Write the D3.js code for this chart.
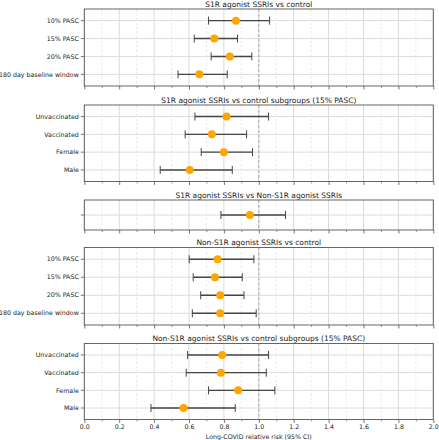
<!DOCTYPE html>
<html><head><meta charset="utf-8">
<script src="https://cdn.jsdelivr.net/npm/d3@7"></script>
<style>body{margin:0;background:#fff}svg{display:block}text{font-family:"DejaVu Sans",sans-serif;fill:#222}</style>
</head><body><svg id="c" width="439" height="440"></svg>
<script>
// Panel titles
const titles = [
  "S1R agonist SSRIs vs control",
  "S1R agonist SSRIs vs control subgroups (15% PASC)",
  "S1R agonist SSRIs vs Non-S1R agonist SSRIs",
  "Non-S1R agonist SSRIs vs control",
  "Non-S1R agonist SSRIs vs control subgroups (15% PASC)"
];
// Row labels per panel
const labels1 = ["10% PASC","15% PASC","20% PASC","180 day baseline window"];
const labels2 = ["Unvaccinated","Vaccinated","Female","Male"];
const labels3 = [""];
const labels4 = ["10% PASC","15% PASC","20% PASC","180 day baseline window"];
const labels5 = ["Unvaccinated","Vaccinated","Female","Male"];
// Relative risk estimates
const rr1 = [0.869,0.745,0.834,0.659];
const rr2 = [0.815,0.731,0.800,0.604];
const rr3 = [0.949];
const rr4 = [0.764,0.749,0.779,0.779];
const rr5 = [0.790,0.783,0.882,0.569];
// Lower 95% CI
const lo1 = [0.712,0.630,0.727,0.537];
const lo2 = [0.634,0.578,0.670,0.435];
const lo3 = [0.783];
const lo4 = [0.601,0.624,0.667,0.619];
const lo5 = [0.592,0.584,0.712,0.382];
// Upper 95% CI
const hi1 = [1.062,0.878,0.960,0.819];
const hi2 = [1.056,0.930,0.964,0.848];
const hi3 = [1.153];
const hi4 = [0.972,0.905,0.915,0.985];
const hi5 = [1.056,1.043,1.092,0.865];
const xTicks = [0.0,0.2,0.4,0.6,0.8,1.0,1.2,1.4,1.6,1.8,2.0];
const xLabel = "Long-COVID relative risk (95% CI)";

const panels = [
  {title:titles[0], labels:labels1, rr:rr1, lo:lo1, hi:hi1, top:9, bottom:86},
  {title:titles[1], labels:labels2, rr:rr2, lo:lo2, hi:hi2, top:105, bottom:181.5},
  {title:titles[2], labels:labels3, rr:rr3, lo:lo3, hi:hi3, top:200, bottom:230},
  {title:titles[3], labels:labels4, rr:rr4, lo:lo4, hi:hi4, top:247.5, bottom:325},
  {title:titles[4], labels:labels5, rr:rr5, lo:lo5, hi:hi5, top:343.5, bottom:419.5}
];

const svg = d3.select("#c");
const L = 84.3, R = 433.3;
const FS = 6.3;
const x = d3.scaleLinear().domain([0,2]).range([L,R]);
const minor = d3.range(0.1,2.0,0.2);

panels.forEach((p,pi)=>{
  const g = svg.append("g");
  const n = p.labels.length;
  const yb = d3.scaleLinear().domain([-0.65, n-0.35]).range([p.top,p.bottom]);
  const yy = i => n===1 ? (p.top+p.bottom)/2 : yb(i);
  // minor grid
  g.selectAll(".mg").data(minor).join("line")
    .attr("x1",d=>x(d)).attr("x2",d=>x(d)).attr("y1",p.top).attr("y2",p.bottom)
    .attr("stroke","#e4e4e4").attr("stroke-width",0.8).attr("stroke-dasharray","2.5,2");
  // major grid
  g.selectAll(".Mg").data(xTicks).join("line")
    .attr("x1",d=>x(d)).attr("x2",d=>x(d)).attr("y1",p.top).attr("y2",p.bottom)
    .attr("stroke","#d9d9d9").attr("stroke-width",1);
  // horizontal grid
  g.selectAll(".hg").data(d3.range(n)).join("line")
    .attr("x1",L).attr("x2",R).attr("y1",d=>yy(d)).attr("y2",d=>yy(d))
    .attr("stroke","#dcdcdc").attr("stroke-width",1);
  // reference line at 1
  g.append("line").attr("x1",x(1)).attr("x2",x(1)).attr("y1",p.top).attr("y2",p.bottom)
    .attr("stroke","#aaa").attr("stroke-width",1).attr("stroke-dasharray","3,2");
  // frame
  g.append("rect").attr("x",L).attr("y",p.top).attr("width",R-L).attr("height",p.bottom-p.top)
    .attr("fill","none").attr("stroke","#555").attr("stroke-width",0.9);
  // x ticks
  const xa = d3.axisBottom(x).tickValues(xTicks).tickSize(3.5).tickPadding(2)
    .tickFormat(pi===4 ? d3.format(".1f") : "");
  const ax = g.append("g").attr("transform",`translate(0,${p.bottom})`).call(xa);
  ax.select(".domain").remove();
  ax.selectAll("line").attr("stroke","#555").attr("stroke-width",0.8);
  ax.selectAll("text").attr("font-size",FS).attr("fill","#222").style("font-family","DejaVu Sans");
  const xm = d3.axisBottom(x).tickValues(minor).tickSize(2).tickFormat("");
  const axm = g.append("g").attr("transform",`translate(0,${p.bottom})`).call(xm);
  axm.select(".domain").remove();
  axm.selectAll("line").attr("stroke","#555").attr("stroke-width",0.6);
  // y ticks and labels
  g.selectAll(".yt").data(d3.range(n)).join("line")
    .attr("x1",L-3.5).attr("x2",L).attr("y1",d=>yy(d)).attr("y2",d=>yy(d))
    .attr("stroke","#555").attr("stroke-width",0.8);
  g.selectAll(".yl").data(p.labels).join("text")
    .attr("x",L-5.5).attr("y",(d,i)=>yy(i)).attr("dy","0.35em")
    .attr("text-anchor","end").attr("font-size",FS).text(d=>d);
  // title
  g.append("text").attr("x",(L+R)/2).attr("y",p.top-2.2).attr("text-anchor","middle")
    .attr("font-size",7.5).text(p.title);
  // error bars
  const eb = g.selectAll(".eb").data(d3.range(n)).join("g");
  eb.append("line").attr("x1",i=>x(p.lo[i])).attr("x2",i=>x(p.hi[i]))
    .attr("y1",i=>yy(i)).attr("y2",i=>yy(i)).attr("stroke","#444").attr("stroke-width",1.4);
  eb.append("line").attr("x1",i=>x(p.lo[i])).attr("x2",i=>x(p.lo[i]))
    .attr("y1",i=>yy(i)-4).attr("y2",i=>yy(i)+4).attr("stroke","#444").attr("stroke-width",1);
  eb.append("line").attr("x1",i=>x(p.hi[i])).attr("x2",i=>x(p.hi[i]))
    .attr("y1",i=>yy(i)-4).attr("y2",i=>yy(i)+4).attr("stroke","#444").attr("stroke-width",1);
  eb.append("circle").attr("cx",i=>x(p.rr[i])).attr("cy",i=>yy(i)).attr("r",4)
    .attr("fill","#FFA500");
});
svg.append("text").attr("x",(L+R)/2).attr("y",438.5).attr("text-anchor","middle")
  .attr("font-size",FS).text(xLabel);
</script></body></html>
